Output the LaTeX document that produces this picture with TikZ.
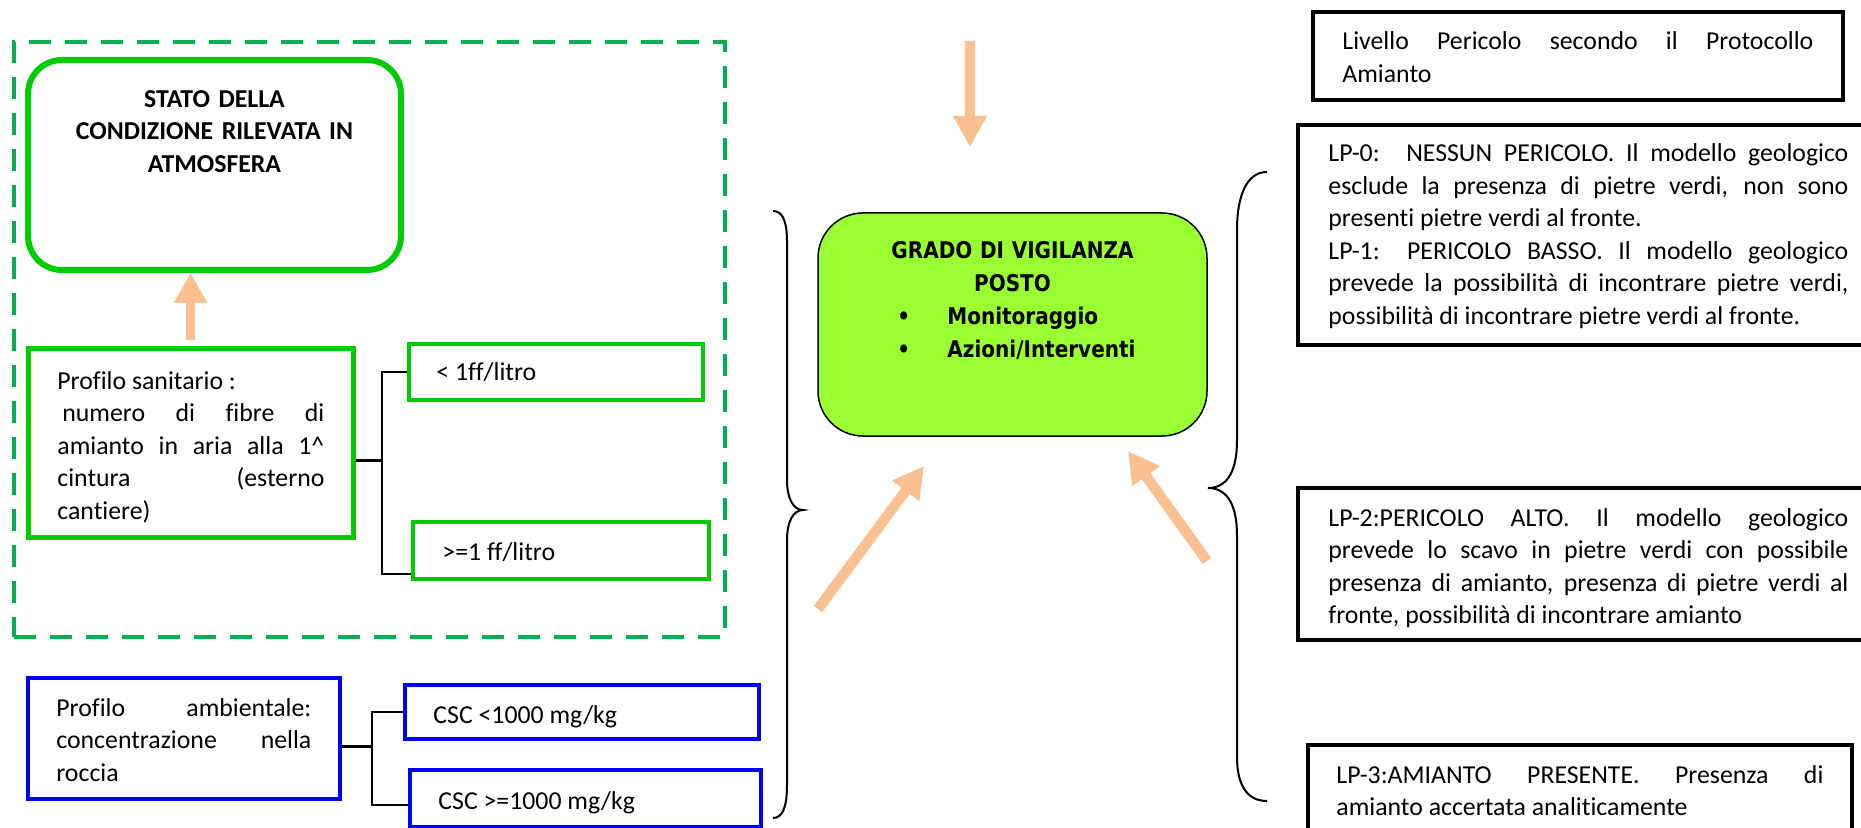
\documentclass[tikz,border=0pt]{standalone}
\usepackage{fontspec}
\setmainfont{Carlito}[Ligatures={TeX,NoCommon}]
\newfontfamily\gradofont[FakeStretch=0.87]{DejaVu Sans Bold}
\usetikzlibrary{arrows.meta}
\definecolor{dashgreen}{HTML}{00B050}
\definecolor{brgreen}{HTML}{00CC00}
\definecolor{bxblue}{HTML}{0000FF}
\definecolor{orarr}{HTML}{FAC090}
\definecolor{gradofill}{HTML}{99FF33}
\newcommand\mybody{\fontsize{12.9pt}{16.25pt}\selectfont}
\newcommand\mygrado{\gradofont\fontsize{11.5pt}{16.5pt}\selectfont}
\hyphenpenalty=10000
\exhyphenpenalty=10000
\tolerance=10000
\begin{document}
\begin{tikzpicture}[x=0.5pt,y=-0.5pt,
  shapebox/.style={rectangle, inner sep=0pt},
  greenbox/.style={shapebox, draw=brgreen, line width=1.75pt},
  bluebox/.style={shapebox, draw=bxblue, line width=1.75pt},
  blackbox/.style={shapebox, draw=black, line width=2pt},
  bodytxt/.style={anchor=base west, inner sep=0pt, font=\mybody},
  justtxt/.style={bodytxt, align=justify},
  orarrow/.style={draw=orarr, line width=5.2pt, -{Triangle[length=15.5pt,width=16pt]}},
  smallarrow/.style={draw=orarr, line width=4.85pt, -{Triangle[length=15pt,width=15.75pt]}},
  conn/.style={draw=black, line width=1pt},
  brace/.style={draw=black, line width=1pt}
]
\useasboundingbox (0,0) rectangle (1861,828);
\clip (0,0) rectangle (1861,828);

% ---------- left: dashed zone ----------
\node[shapebox, draw=dashgreen, line width=2.25pt, dash pattern=on 11pt off 7pt,
      minimum width=355.5pt, minimum height=297.5pt] (zone) at (369.5,339.5) {};
\node[shapebox, draw=brgreen, line width=3pt, rounded corners=17pt,
      minimum width=186.5pt, minimum height=105pt] (stato) at (214.5,165) {};
\node[anchor=base, inner sep=0pt, text width=190pt, align=center, font=\mybody\bfseries]
      (statot) at (214.5,107.5) {STATO DELLA\\CONDIZIONE RILEVATA IN\\ATMOSFERA};

\node[greenbox, line width=2.5pt, minimum width=162.5pt, minimum height=94pt] (profilo) at (190.5,443) {};
\node[justtxt, text width=133.5pt] (profilot) at (57,389)
  {Profilo sanitario :\\\hspace*{2.5pt}numero di fibre di\linebreak amianto in aria alla 1\textasciicircum\linebreak cintura (esterno\linebreak cantiere)};

\node[greenbox, minimum width=147pt, minimum height=28pt] (lt1) at (556,372) {};
\node[bodytxt] (lt1t) at (436,380) {< 1ff/litro};
\node[greenbox, minimum width=148pt, minimum height=28.5pt] (ge1) at (561,550.5) {};
\node[bodytxt] (ge1t) at (442,560) {>=1 ff/litro};

\draw[smallarrow, shorten <=3.25pt] (profilo.north) -- (profilo.north |- stato.south);

\coordinate (sj) at (382,460);
\coordinate (sv1) at (382,372);
\coordinate (sv2) at (382,574);
\draw[conn, line width=1.5pt] (profilo.east |- sj) -- (sj);
\draw[conn] (lt1.west) -- (sv1) -- (sv2) -- (ge1.west |- sv2);

% ---------- left: blue ----------
\node[bluebox, line width=2pt, minimum width=156pt, minimum height=60.5pt] (pamb) at (184,738.5) {};
\node[justtxt, text width=127.5pt] (pambt) at (56,716)
  {Profilo ambientale:\linebreak concentrazione nella\linebreak roccia};
\node[bluebox, minimum width=177pt, minimum height=27pt] (csc1) at (582,712) {};
\node[bodytxt] (csc1t) at (433,723) {CSC <1000 mg/kg};
\node[bluebox, minimum width=175.5pt, minimum height=28.5pt] (csc2) at (585.5,798.5) {};
\node[bodytxt] (csc2t) at (438,809) {CSC >=1000 mg/kg};

\coordinate (bj) at (372,746);
\coordinate (bv1) at (372,712);
\coordinate (bv2) at (372,805);
\draw[conn, line width=1.5pt] (pamb.east |- bj) -- (bj);
\draw[conn] (csc1.west) -- (bv1) -- (bv2) -- (csc2.west |- bv2);

% ---------- centre ----------
\draw[brace] (773,211) .. controls (783,211) and (787,222) .. (787,242) -- (787,480)
  .. controls (787,498) and (793,510) .. (803,510)
  .. controls (793,510) and (787,522) .. (787,540) -- (787,785)
  .. controls (787,806) and (783,818) .. (773,818);

\node[shapebox, draw=black, line width=0.75pt, fill=gradofill, rounded corners=22.5pt,
      minimum width=194.5pt, minimum height=111.5pt] (grado) at (1012.5,324.5) {};
\node[anchor=base, inner sep=0pt, text width=180pt, align=center, font=\mygrado]
      (gradot) at (1012.5,258.5) {GRADO DI VIGILANZA\\POSTO};
\node[anchor=base west, inner sep=0pt, text width=150pt, align=left, font=\mygrado]
      (gradol) at (897,324.5) {\makebox[25pt][l]{\textbullet}Monitoraggio\\\makebox[25pt][l]{\textbullet}Azioni/Interventi};

\coordinate (ta1) at (970,41);
\coordinate (ta2) at (970,147);
\draw[orarrow] (ta1) -- (ta2);
\coordinate (la1) at (818,609);
\coordinate (la2) at (924,466);
\draw[orarrow] (la1) -- (la2);
\coordinate (ra1) at (1207,561);
\coordinate (ra2) at (1128,451);
\draw[orarrow] (ra1) -- (ra2);

\draw[brace] (1267,172) .. controls (1247,172) and (1237,195) .. (1237,230) -- (1237,440)
  .. controls (1237,470) and (1228,488) .. (1208,488)
  .. controls (1228,488) and (1237,506) .. (1237,536) -- (1237,757)
  .. controls (1237,785) and (1247,801) .. (1267,801);

% ---------- right ----------
\node[blackbox, line width=1.75pt, minimum width=265pt, minimum height=44pt] (livello) at (1578,56) {};
\node[justtxt, text width=235.5pt] (livellot) at (1342,50)
  {Livello Pericolo secondo il Protocollo\linebreak Amianto};

\node[blackbox, minimum width=291pt, minimum height=110pt] (lp01) at (1589,235) {};
\node[justtxt, text width=260pt] (lp01t) at (1328,162)
  {LP-0:\hspace{3.5pt} NESSUN PERICOLO. Il modello geologico\linebreak esclude la presenza di pietre verdi, non sono\linebreak presenti pietre verdi al fronte.\\
   LP-1: PERICOLO BASSO. Il modello geologico\linebreak prevede la possibilità di incontrare pietre verdi,\linebreak possibilità di incontrare pietre verdi al fronte.};

\node[blackbox, minimum width=291pt, minimum height=76pt] (lp2) at (1589,564) {};
\node[justtxt, text width=260pt] (lp2t) at (1328,526)
  {LP-2:PERICOLO ALTO. Il modello geologico\linebreak prevede lo scavo in pietre verdi con possibile\linebreak presenza di amianto, presenza di pietre verdi al\linebreak fronte, possibilità di incontrare amianto};

\node[blackbox, minimum width=272pt, minimum height=57.5pt] (lp3) at (1580,802.5) {};
\node[justtxt, text width=243.5pt] (lp3t) at (1336,783)
  {LP-3:AMIANTO PRESENTE. Presenza di\linebreak amianto accertata analiticamente};
\end{tikzpicture}
\end{document}
